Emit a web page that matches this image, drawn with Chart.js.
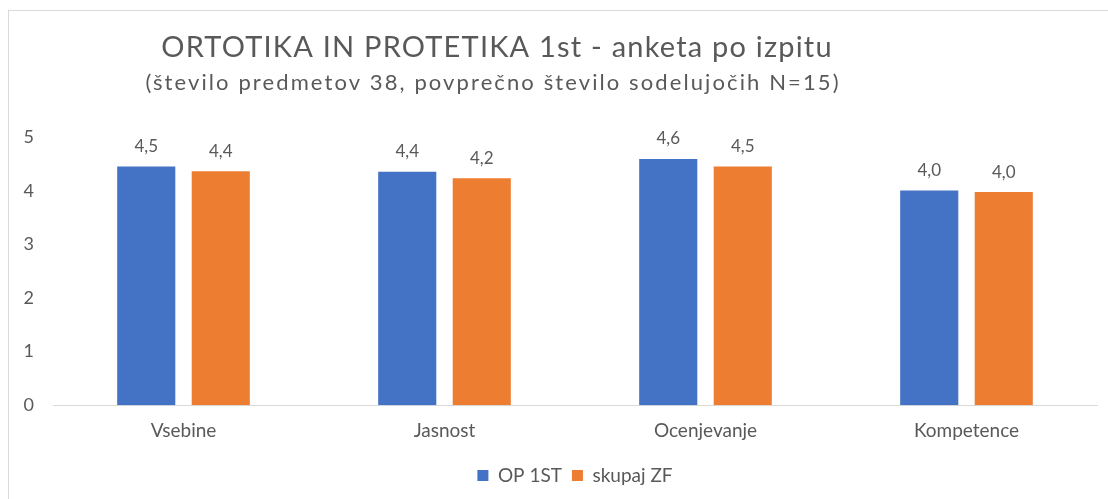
<!DOCTYPE html>
<html>
<head>
<meta charset="utf-8">
<script src="https://cdn.jsdelivr.net/npm/chart.js@4/dist/chart.umd.min.js"></script>
<style>
    html, body { margin: 0; padding: 0; background: #fff; overflow: hidden; }
    #okvir {
        position: absolute; left: 8px; top: 10px; width: 1130px; height: 520px;
        border: 1px solid #d9d9d9; box-sizing: border-box;
    }
    #wrap { position: absolute; left: 0; top: 0; width: 1108px; height: 499px; }
</style>
</head>
<body>
<div id="okvir"></div>
<div id="wrap"><canvas id="graf"></canvas></div>
<script>
// Podatki grafa
const kategorije = ['Vsebine', 'Jasnost', 'Ocenjevanje', 'Kompetence'];
const opVrednosti = [4.46, 4.36, 4.60, 4.01];
const zfVrednosti = [4.37, 4.24, 4.46, 3.98];
const imenaSerij = ['OP 1ST', 'skupaj ZF'];
const naslov = 'ORTOTIKA IN PROTETIKA 1st - anketa po izpitu';
const podnaslov = '(število predmetov 38, povprečno število sodelujočih N=15)';

const SIVA = '#595959';
const PISAVA = 'Lato, "Open Sans", sans-serif';

// Naslov narisan rocno, ker je v izvirniku zamaknjen levo od sredine
const naslovPlugin = {
    id: 'naslov',
    afterDraw(chart) {
        const ctx = chart.ctx;
        ctx.save();
        ctx.fillStyle = SIVA;
        ctx.textAlign = 'center';
        ctx.textBaseline = 'middle';
        ctx.font = '29px ' + PISAVA;
        ctx.letterSpacing = '1.2px';
        ctx.fillText(naslov, 497, 48);
        ctx.font = '22px ' + PISAVA;
        ctx.letterSpacing = '2.1px';
        ctx.fillText(podnaslov, 493, 83);
        ctx.restore();
    }
};

// Oznake vrednosti nad stolpci (4,5 ...)
const oznakePlugin = {
    id: 'oznake',
    afterDatasetsDraw(chart) {
        const ctx = chart.ctx;
        ctx.save();
        ctx.fillStyle = SIVA;
        ctx.font = '17px ' + PISAVA;
        ctx.textAlign = 'center';
        ctx.textBaseline = 'middle';
        chart.data.datasets.forEach((ds, i) => {
            chart.getDatasetMeta(i).data.forEach((bar, j) => {
                const txt = ds.data[j].toFixed(1).replace('.', ',');
                ctx.fillText(txt, bar.x, bar.y - 20);
            });
        });
        ctx.restore();
    }
};

new Chart(document.getElementById('graf'), {
    type: 'bar',
    data: {
        labels: kategorije,
        datasets: [
            { label: imenaSerij[0], data: opVrednosti, backgroundColor: '#4472C4' },
            { label: imenaSerij[1], data: zfVrednosti, backgroundColor: '#ED7D31' }
        ]
    },
    options: {
        responsive: true,
        maintainAspectRatio: false,
        animation: false,
        categoryPercentage: 0.571,
        barPercentage: 0.78,
        layout: { padding: { left: 10, right: 11, top: 137.5, bottom: 4 } },
        plugins: {
            title: { display: false },
            tooltip: { enabled: false },
            legend: {
                position: 'bottom',
                fullSize: false,
                labels: {
                    color: SIVA,
                    font: { family: PISAVA, size: 19 },
                    boxWidth: 11,
                    boxHeight: 11,
                    padding: 10
                }
            }
        },
        scales: {
            x: {
                grid: { display: false, drawTicks: false },
                border: { display: true, color: '#d9d9d9', width: 1 },
                ticks: { color: SIVA, font: { family: PISAVA, size: 19 }, padding: 14 }
            },
            y: {
                min: 0,
                max: 5,
                afterFit(scale) { scale.width = 43; },
                grid: { display: false, drawTicks: false },
                border: { display: false },
                ticks: { stepSize: 1, color: SIVA, font: { family: PISAVA, size: 18 }, padding: 19 }
            }
        }
    },
    plugins: [naslovPlugin, oznakePlugin]
});
</script>
</body>
</html>
